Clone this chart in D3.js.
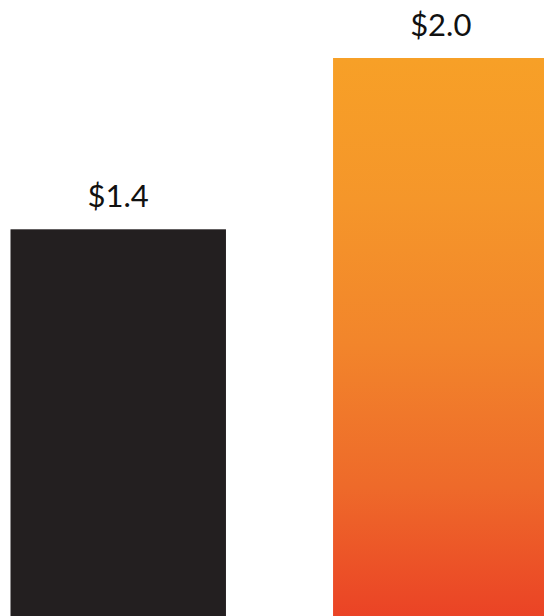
<!DOCTYPE html>
<html><head><meta charset="utf-8">
<script src="https://cdn.jsdelivr.net/npm/d3@7"></script>
<style>html,body{margin:0;padding:0;background:#fff;overflow:hidden}</style>
</head><body>
<script>
const categories = ["A", "B"];
const values = [1.4, 2.0];
const labels = ["$1.4", "$2.0"];

const W = 544, H = 616;
const svg = d3.select("body").append("svg").attr("width", W).attr("height", H);
const defs = svg.append("defs");
const grad = defs.append("linearGradient").attr("id", "og").attr("x1", 0).attr("y1", 0).attr("x2", 0).attr("y2", 1);
[["0%", "#f7a027"], ["25%", "#f5962a"], ["50%", "#f2852b"], ["75%", "#ee6a2a"], ["100%", "#ea3f25"]]
  .forEach(([o, c]) => grad.append("stop").attr("offset", o).attr("stop-color", c));

const x = d3.scaleBand().domain(categories).range([10.5, 548.5]).paddingInner(0.332).paddingOuter(0);
const y = d3.scaleLinear().domain([0, 2]).range([629, 58]);

const fills = ["#231f20", "url(#og)"];
svg.selectAll("rect.bar").data(values).join("rect").attr("class", "bar")
  .attr("x", (d, i) => x(categories[i]))
  .attr("width", x.bandwidth())
  .attr("y", d => y(d))
  .attr("height", d => y(0) - y(d))
  .attr("fill", (d, i) => fills[i]);

svg.selectAll("text.lbl").data(values).join("text").attr("class", "lbl")
  .attr("x", (d, i) => x(categories[i]) + x.bandwidth() / 2)
  .attr("y", d => y(d) - 22)
  .attr("text-anchor", "middle")
  .attr("font-family", "Lato, 'Open Sans', sans-serif")
  .attr("font-size", 31)
  .attr("fill", "#111")
  .text((d, i) => labels[i]);
</script>
</body></html>
